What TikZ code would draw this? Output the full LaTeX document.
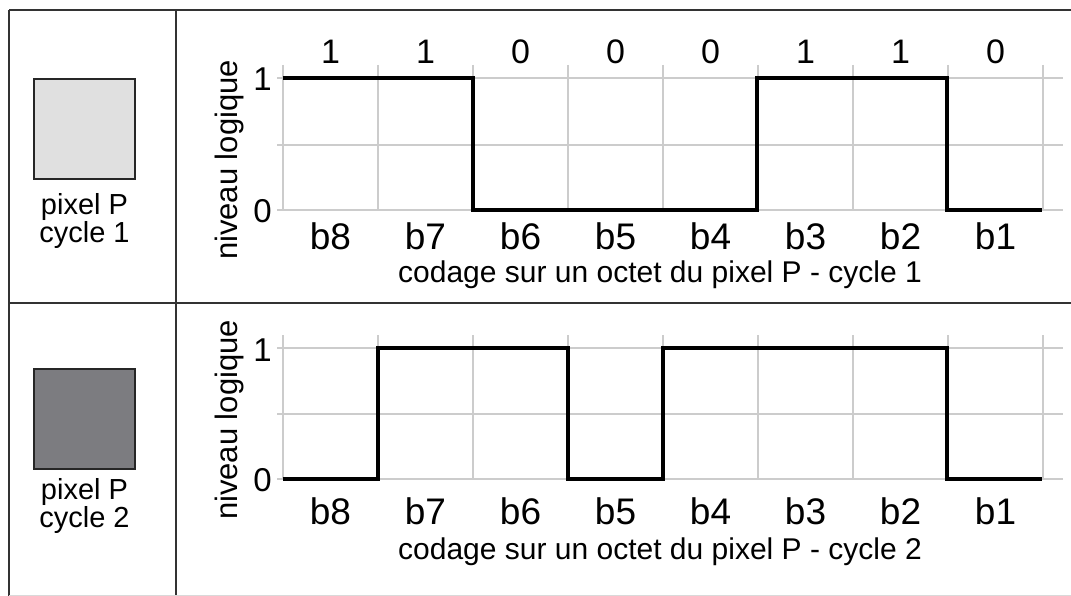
\documentclass[tikz,border=0pt]{standalone}
\usepackage{fontspec}
\setmainfont{Liberation Sans}
\begin{document}
\begin{tikzpicture}[x=1pt,y=-1pt,
  frame/.style={line width=2pt, draw=black!80},
  gridl/.style={line width=1.3pt, draw=black!20},
  sig/.style={line width=4.5pt, line cap=butt, line join=miter},
  bitv/.style={font=\fontsize{34}{34}\selectfont, anchor=base, inner sep=0pt},
  blab/.style={font=\fontsize{37}{37}\selectfont, anchor=base, inner sep=0pt},
  captxt/.style={font=\fontsize{30}{30}\selectfont, anchor=base, inner sep=0pt},
  ylab/.style={font=\fontsize{33}{33}\selectfont, anchor=east, inner sep=0pt},
  axt/.style={font=\fontsize{31}{31}\selectfont, rotate=90, inner sep=0pt},
  pix/.style={font=\fontsize{29}{29}\selectfont, anchor=base, inner sep=0pt},
  swatch/.style={draw=black!85, line width=2pt, minimum width=101pt, minimum height=100pt, inner sep=0pt}
]
\useasboundingbox (0,0) rectangle (1071,596);
% table frame
\draw[frame] (9,10) -- (1071,10);
\draw[frame] (9,303) -- (1071,303);
\draw[frame] (9,10) -- (9,596);
\draw[frame] (176,10) -- (176,596);
\draw[line width=1pt, draw=black!15] (9,595) -- (1071,595);

% ---------- panel 1 ----------
\node[swatch, fill=black!12] (sq1) at (84.5,129) {};
\node[pix] (p1a) at (84.5,215) {pixel P};
\node[pix] (p1b) at (84.5,243) {cycle 1};
\foreach \i in {0,...,8} \draw[gridl] ({283+95*\i},65) -- ({283+95*\i},210);
\foreach \yy in {78,145,210} \draw[gridl] (277,\yy) -- (1063,\yy);
\draw[sig] (283,78) -- (473,78) -- (473,210) -- (757,210) -- (757,78) -- (947,78) -- (947,210) -- (1042,210);
\node[ylab] (y1h) at (272,79) {1};
\node[ylab] (y1l) at (272,211) {0};
\node[axt] (ax1) at (229,160) {niveau logique};
\foreach \v [count=\i from 0] in {1,1,0,0,0,1,1,0}
  \node[bitv] (bit\i) at ({330.5+95*\i},64) {\v};
\foreach \b [count=\i from 0] in {8,7,6,5,4,3,2,1}
  \node[blab] (ba\i) at ({330.5+95*\i},250) {b\b};
\node[captxt] (c1) at (660,283) {codage sur un octet du pixel P - cycle 1};

% ---------- panel 2 ----------
\node[swatch, fill=black!50!blue!3!gray] (sq2) at (84.5,418.5) {};
\node[pix] (p2a) at (84.5,499) {pixel P};
\node[pix] (p2b) at (84.5,527) {cycle 2};
\foreach \i in {0,...,8} \draw[gridl] ({283+95*\i},335) -- ({283+95*\i},479);
\foreach \yy in {348,414,479} \draw[gridl] (277,\yy) -- (1063,\yy);
\draw[sig] (283,479) -- (378,479) -- (378,348) -- (568,348) -- (568,479) -- (663,479) -- (663,348) -- (947,348) -- (947,479) -- (1042,479);
\node[ylab] (y2h) at (272,350) {1};
\node[ylab] (y2l) at (272,480) {0};
\node[axt] (ax2) at (229,420) {niveau logique};
\foreach \b [count=\i from 0] in {8,7,6,5,4,3,2,1}
  \node[blab] (bb\i) at ({330.5+95*\i},524) {b\b};
\node[captxt] (c2) at (660,559) {codage sur un octet du pixel P - cycle 2};
\end{tikzpicture}
\end{document}
